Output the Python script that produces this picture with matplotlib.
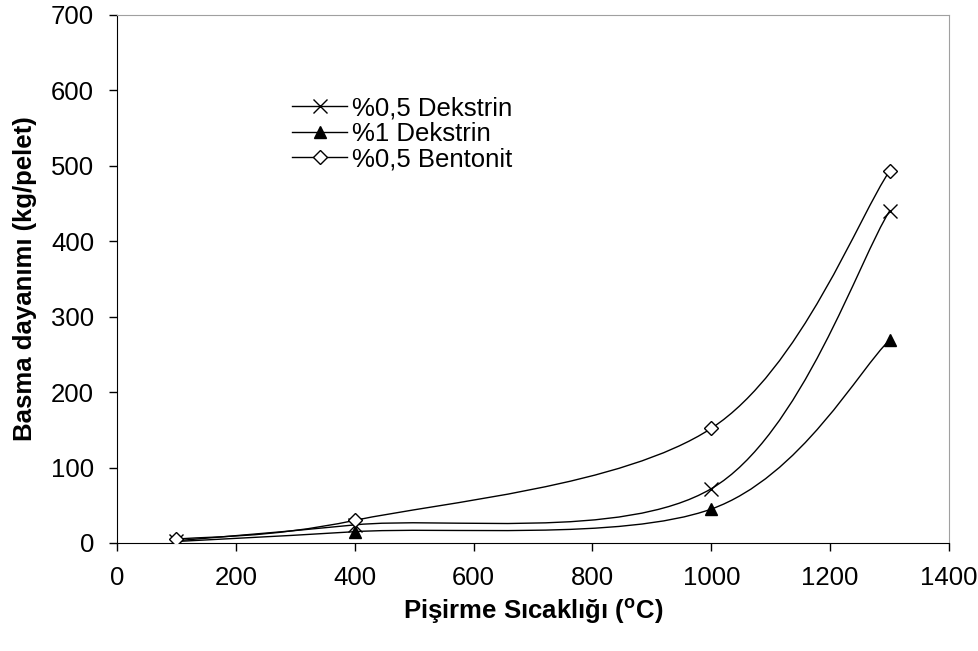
import numpy as np
from matplotlib import pyplot as plt
from matplotlib.path import Path
from matplotlib.patches import PathPatch
from matplotlib.lines import Line2D

plt.rcParams['font.family'] = ['Liberation Sans', 'DejaVu Sans']

# Data
temps = [100, 400, 1000, 1300]
dekstrin_05 = [3, 24, 72, 440]
dekstrin_1 = [2, 15, 45, 269]
bentonit_05 = [5, 30, 152, 493]

xticks = [0, 200, 400, 600, 800, 1000, 1200, 1400]
yticks = [0, 100, 200, 300, 400, 500, 600, 700]


def smooth_path(x, y):
    # Excel-style smoothed line: cubic Bezier through each point
    pts = np.column_stack([x, y]).astype(float)
    ext = np.vstack([pts[0], pts, pts[-1]])
    verts = [pts[0]]
    codes = [Path.MOVETO]
    for i in range(len(pts) - 1):
        p0, p1, p2, p3 = ext[i], ext[i + 1], ext[i + 2], ext[i + 3]
        verts += [p1 + (p2 - p0) / 6, p2 - (p3 - p1) / 6, p2]
        codes += [Path.CURVE4] * 3
    return Path(verts, codes)


fig = plt.figure(figsize=(9.79, 6.51), dpi=100)
ax = fig.add_axes([117 / 979, 1 - 543 / 651, 832 / 979, 528 / 651])

series = [
    (dekstrin_05, dict(marker='x', color='black', markersize=10, markeredgewidth=1), '%0,5 Dekstrin'),
    (dekstrin_1, dict(marker='^', color='black', markersize=9), '%1 Dekstrin'),
    (bentonit_05, dict(marker='D', color='black', markerfacecolor='white', markersize=7,
                       markeredgewidth=1), '%0,5 Bentonit'),
]

handles = []
for vals, mstyle, name in series:
    ax.add_patch(PathPatch(smooth_path(temps, vals), facecolor='none',
                           edgecolor='black', lw=1, zorder=2))
    ax.plot(temps, vals, linestyle='none', zorder=3, **mstyle)
    handles.append(Line2D([], [], linestyle='-', lw=1, label=name, **mstyle))

ax.set_xlim(0, 1400)
ax.set_ylim(0, 700)
ax.set_xticks(xticks)
ax.set_yticks(yticks)
ax.tick_params(direction='out', length=5.5, width=1, labelsize=18.5, pad=11)
for s in ['top', 'right']:
    ax.spines[s].set_color('#a0a0a0')
ax.spines['left'].set_color('black')
ax.spines['bottom'].set_color('black')

ax.set_xlabel('Pişirme Sıcaklığı ($^{\\mathregular{o}}$C)', fontsize=18.5, fontweight='bold')
ax.set_ylabel('Basma dayanımı (kg/pelet)', fontsize=18.5, fontweight='bold')
ax.xaxis.label.set_va('center')
ax.yaxis.label.set_va('center')
ax.xaxis.set_label_coords(0.5, -0.13)
ax.yaxis.set_label_coords(-0.111, 0.5)

ax.legend(handles=handles, loc='upper left', bbox_to_anchor=(0.195, 0.87),
          frameon=False, fontsize=18.5, handlelength=2.15, handletextpad=0.2,
          labelspacing=0.05, borderpad=0)

fig.savefig('out.png', dpi=100)
